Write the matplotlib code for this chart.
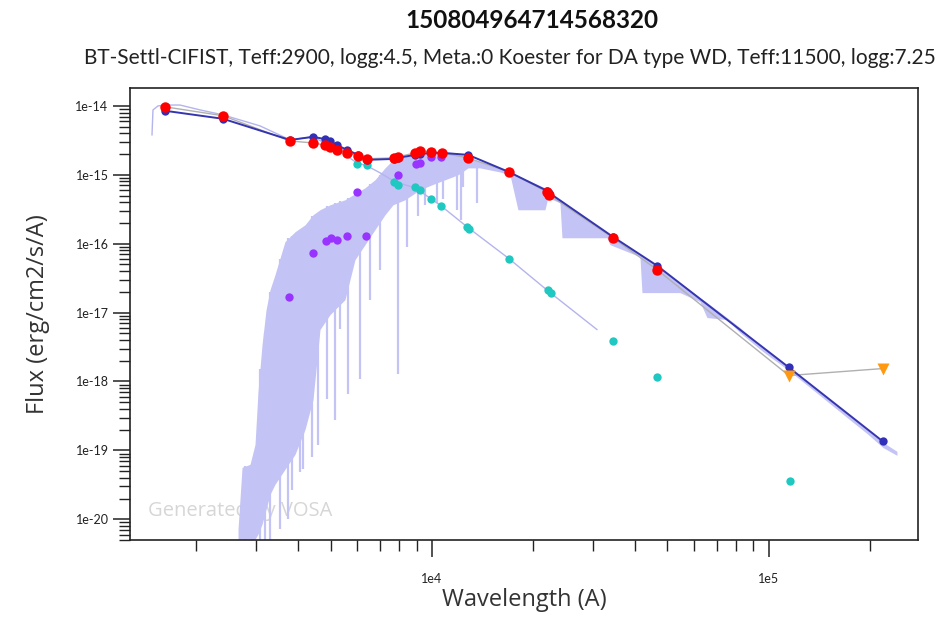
import numpy as np
import matplotlib
matplotlib.use("Agg")
import matplotlib.pyplot as plt
from matplotlib.ticker import FixedLocator, LogLocator, FuncFormatter, NullFormatter

# %% data (wavelength in A, flux in erg/cm2/s/A)
obs_wave = [1614, 2399, 3790, 4436, 4811, 4977, 5224, 5596, 6031, 6412, 7711, 7925,
            8913, 9213, 9932, 10707, 12792, 16915, 21900, 22233, 34430, 46560]
obs_flux = [9.7e-15, 7.2e-15, 3.1e-15, 2.9e-15, 2.7e-15, 2.55e-15, 2.3e-15, 2.08e-15,
            1.89e-15, 1.71e-15, 1.76e-15, 1.82e-15, 2.08e-15, 2.23e-15, 2.16e-15,
            2.08e-15, 1.76e-15, 1.10e-15, 5.67e-16, 5.13e-16, 1.22e-16, 4.2e-17]

uplim_wave = [114600, 217800]
uplim_flux = [1.22e-18, 1.54e-18]

model_wave = [1614, 2399, 3790, 4436, 4811, 4977, 5224, 5596, 6031, 6412, 7711, 7925,
              8913, 9213, 9932, 10707, 12792, 16915, 21900, 22233, 34430, 46560,
              114600, 217800]
model_flux = [8.5e-15, 6.5e-15, 3.2e-15, 3.56e-15, 3.3e-15, 3.1e-15, 2.7e-15, 2.3e-15,
              1.95e-15, 1.65e-15, 1.7e-15, 1.76e-15, 1.95e-15, 2.0e-15, 2.08e-15,
              2.08e-15, 1.95e-15, 1.1e-15, 5.9e-16, 5.5e-16, 1.26e-16, 4.8e-17,
              1.6e-18, 1.35e-19]

mdwarf_wave = [3767, 4436, 4844, 5012, 5224, 5596, 5990, 6372, 7925, 8970, 9213, 9932, 10634]
mdwarf_flux = [1.71e-17, 7.4e-17, 1.10e-16, 1.22e-16, 1.14e-16, 1.31e-16, 5.67e-16,
               1.31e-16, 1.0e-15, 1.44e-15, 1.49e-15, 1.82e-15, 1.82e-15]

wd_wave = [5990, 6412, 7711, 7925, 8913, 9213, 9932, 10634, 12701, 12900, 16915,
           22084, 22541, 34430, 46560, 115300]
wd_flux = [1.44e-15, 1.40e-15, 7.9e-16, 7.2e-16, 6.7e-16, 6.1e-16, 4.5e-16, 3.55e-16,
           1.76e-16, 1.65e-16, 5.9e-17, 2.1e-17, 1.95e-17, 3.9e-18, 1.18e-18, 3.55e-20]

# Koester WD spectrum (thin line)
wdspec_wave = [1476, 1486, 1538, 1614, 1787, 2050, 2398, 3087, 3790, 4436, 4982, 5519,
               5990, 6413, 7009, 7766, 8904, 9932, 10634, 12706, 16924, 22245, 30870]
wdspec_flux = [3.80e-15, 8.75e-15, 1.0e-14, 1.03e-14, 1.03e-14, 8.75e-15, 7.41e-15,
               5.13e-15, 3.22e-15, 3.56e-15, 2.63e-15, 1.95e-15, 1.49e-15, 1.35e-15,
               1.07e-15, 7.92e-16, 6.48e-16, 4.49e-16, 3.55e-16, 1.76e-16, 6.07e-17,
               2.01e-17, 5.68e-18]

# BT-Settl spectrum, upper / lower envelope
settl_wave = [2657, 2731, 2884, 2984, 3046, 3131, 3218, 3307, 3421, 3662, 3922, 4200,
              4436, 4653, 4982, 5519, 5909, 6327, 6774, 7254, 7661, 8315, 9213, 10000,
              10928, 11946, 12792, 13879, 15915, 17040, 17995, 21643, 22090, 23980,
              24313, 33060, 33750, 41423, 42000, 54440, 62420, 65470, 75050, 82020,
              95990, 114650, 141670, 170400, 195400, 217970, 239880]
settl_top = [7.16e-21, 5.67e-20, 6.27e-20, 1.22e-19, 7.16e-19, 3.44e-18, 1.10e-17,
             2.15e-17, 3.56e-17, 1.07e-16, 1.49e-16, 1.88e-16, 2.63e-16, 3.11e-16,
             3.67e-16, 4.34e-16, 5.31e-16, 6.48e-16, 8.47e-16, 1.26e-15, 1.65e-15,
             1.82e-15, 2.08e-15, 2.16e-15, 2.16e-15, 2.08e-15, 1.82e-15, 1.54e-15,
             1.22e-15, 1.07e-15, 9.68e-16, 6.48e-16, 5.49e-16, 4.34e-16, 4.20e-16,
             1.40e-16, 1.31e-16, 6.93e-17, 6.70e-17, 2.72e-17, 1.65e-17, 1.40e-17,
             8.47e-18, 6.06e-18, 3.11e-18, 1.60e-18, 7.16e-19, 3.44e-19, 2.01e-19,
             1.31e-19, 9.68e-20]
settl_bot = [5.13e-21, 5.13e-21, 5.13e-21, 5.13e-21, 6.07e-21, 8.47e-21, 1.40e-20,
             2.30e-20, 3.22e-20, 5.31e-20, 8.75e-20, 2.01e-19, 5.48e-19, 5.68e-18,
             9.35e-18, 1.54e-17, 5.86e-17, 9.68e-17, 1.60e-16, 2.63e-16, 3.67e-16,
             4.34e-16, 6.06e-16, 7.16e-16, 8.47e-16, 1.0e-15, 1.26e-15, 1.26e-15,
             1.10e-15, 1.0e-15, 3.11e-16, 3.11e-16, 4.65e-16, 3.93e-16, 1.22e-16,
             1.22e-16, 9.68e-17, 6.48e-17, 1.95e-17, 1.95e-17, 1.44e-17, 8.47e-18,
             7.92e-18, 5.13e-18, 2.72e-18, 1.44e-18, 6.27e-19, 3.01e-19, 1.76e-19,
             1.10e-19, 8.47e-20]

# deep absorption lines of the BT-Settl spectrum
line_wave = [2787, 2924, 3087, 3195, 3307, 3540, 3738, 3842, 4058, 4142, 4405, 4590,
             4880, 5155, 5333, 5633, 6115, 6546, 7009, 7927, 8430, 9087, 9533, 10347,
             10800, 11865, 12194, 12360, 13600]
line_bot = [4.3e-21, 4.3e-21, 4.3e-21, 4.3e-21, 4.3e-21, 7.2e-21, 1.0e-20, 2.7e-20,
            4.8e-20, 5.3e-20, 7.9e-20, 1.2e-19, 5.5e-19, 2.8e-19, 5.7e-18, 6.5e-19,
            1.1e-18, 1.5e-17, 4.2e-17, 1.3e-18, 9.1e-17, 2.5e-16, 3.7e-16, 3.9e-16,
            4.5e-16, 3.1e-16, 2.2e-16, 6.7e-16, 3.9e-16]
line_top = [6e-20, 6.3e-20, 1.5e-18, 5e-18, 2e-17, 6e-17, 1.2e-16, 1.3e-16, 1.6e-16,
            1.7e-16, 2.5e-16, 2.8e-16, 3.5e-16, 3.9e-16, 4.1e-16, 4.6e-16, 5.7e-16,
            7.3e-16, 1.0e-15, 1.7e-15, 1.8e-15, 2.0e-15, 2.1e-15, 2.1e-15, 2.1e-15,
            2.1e-15, 2.0e-15, 1.9e-15, 1.6e-15]

x_ticks = [1e4, 1e5]
y_ticks = [1e-20, 1e-19, 1e-18, 1e-17, 1e-16, 1e-15, 1e-14]

title = "150804964714568320"
subtitle = ("BT-Settl-CIFIST, Teff:2900, logg:4.5, Meta.:0 Koester for DA type WD, "
            "Teff:11500, logg:7.25")

# %% plot
spec_col = "#c3c3f5"
fig = plt.figure(figsize=(9.52, 6.17), dpi=100)
ax = fig.add_axes([130 / 952, 77 / 617, 788 / 952, 452 / 617])

ax.fill_between(settl_wave, settl_bot, settl_top, color=spec_col, lw=0, zorder=1)
ax.vlines(line_wave, line_bot, line_top, color=spec_col, lw=1.6, zorder=1)
ax.plot(wdspec_wave, wdspec_flux, color="#b4b4ee", lw=1.0, zorder=2)

# observed SED connecting line
ax.plot(obs_wave + uplim_wave, obs_flux + uplim_flux, color="#b0b0b0", lw=1.0, zorder=2)
ax.plot(model_wave, model_flux, color="#3535b0", lw=1.4, zorder=3)

ax.plot(wd_wave, wd_flux, "o", color="#1fc8c0", ms=6, mec="none", zorder=4)
ax.plot(mdwarf_wave, mdwarf_flux, "o", color="#9933ff", ms=6, mec="none", zorder=4)
ax.plot(model_wave, model_flux, "o", color="#3030b8", ms=6, mec="none", zorder=5)
ax.plot(obs_wave, obs_flux, "o", color="#ff0000", ms=7.5, mec="none", zorder=6)
ax.plot(uplim_wave, uplim_flux, "v", color="#ff9a10", ms=8.5, mec="none", zorder=6)

ax.set_xscale("log")
ax.set_yscale("log")
ax.set_xlim(1270, 2.77e5)
ax.set_ylim(5.0e-21, 1.82e-14)

ax.xaxis.set_major_locator(FixedLocator(x_ticks))
ax.yaxis.set_major_locator(FixedLocator(y_ticks))
ax.xaxis.set_minor_locator(LogLocator(base=10, subs=np.arange(2, 10), numticks=20))
ax.yaxis.set_minor_locator(LogLocator(base=10, subs=np.arange(2, 10), numticks=20))
fmt = FuncFormatter(lambda v, p: "1e%d" % round(np.log10(v)))
ax.xaxis.set_major_formatter(fmt)
ax.yaxis.set_major_formatter(fmt)
ax.xaxis.set_minor_formatter(NullFormatter())
ax.yaxis.set_minor_formatter(NullFormatter())

ax.tick_params(which="major", length=12, width=1.1, labelsize=9, direction="out",
               colors="#222222")
ax.tick_params(which="minor", length=8, width=1.0, direction="out", colors="#222222")
for lab in ax.get_xticklabels() + ax.get_yticklabels():
    lab.set_family("Lato")
ax.tick_params(axis="x", pad=12)
for s in ax.spines.values():
    s.set_color("#222222")
    s.set_linewidth(1.2)

ax.set_xlabel("Wavelength (A)", family="Open Sans", fontsize=17, color="#333333",
              labelpad=2)
ax.set_ylabel("Flux (erg/cm2/s/A)", family="Open Sans", fontsize=17, color="#333333",
              labelpad=18)

ax.text(0.023, 0.064, "Generated by VOSA", transform=ax.transAxes, family="Open Sans",
        fontsize=14.5, color="#d6d6d6", va="center", ha="left", zorder=0)

fig.text(532 / 952, 1 - 20 / 617, title, family="Lato", weight="bold", fontsize=17.5,
         ha="center", va="center", color="#111111")
fig.text(510 / 952, 1 - 58 / 617, subtitle, family="Lato", fontsize=15,
         ha="center", va="center", color="#222222")

fig.savefig("out.png", dpi=100)
